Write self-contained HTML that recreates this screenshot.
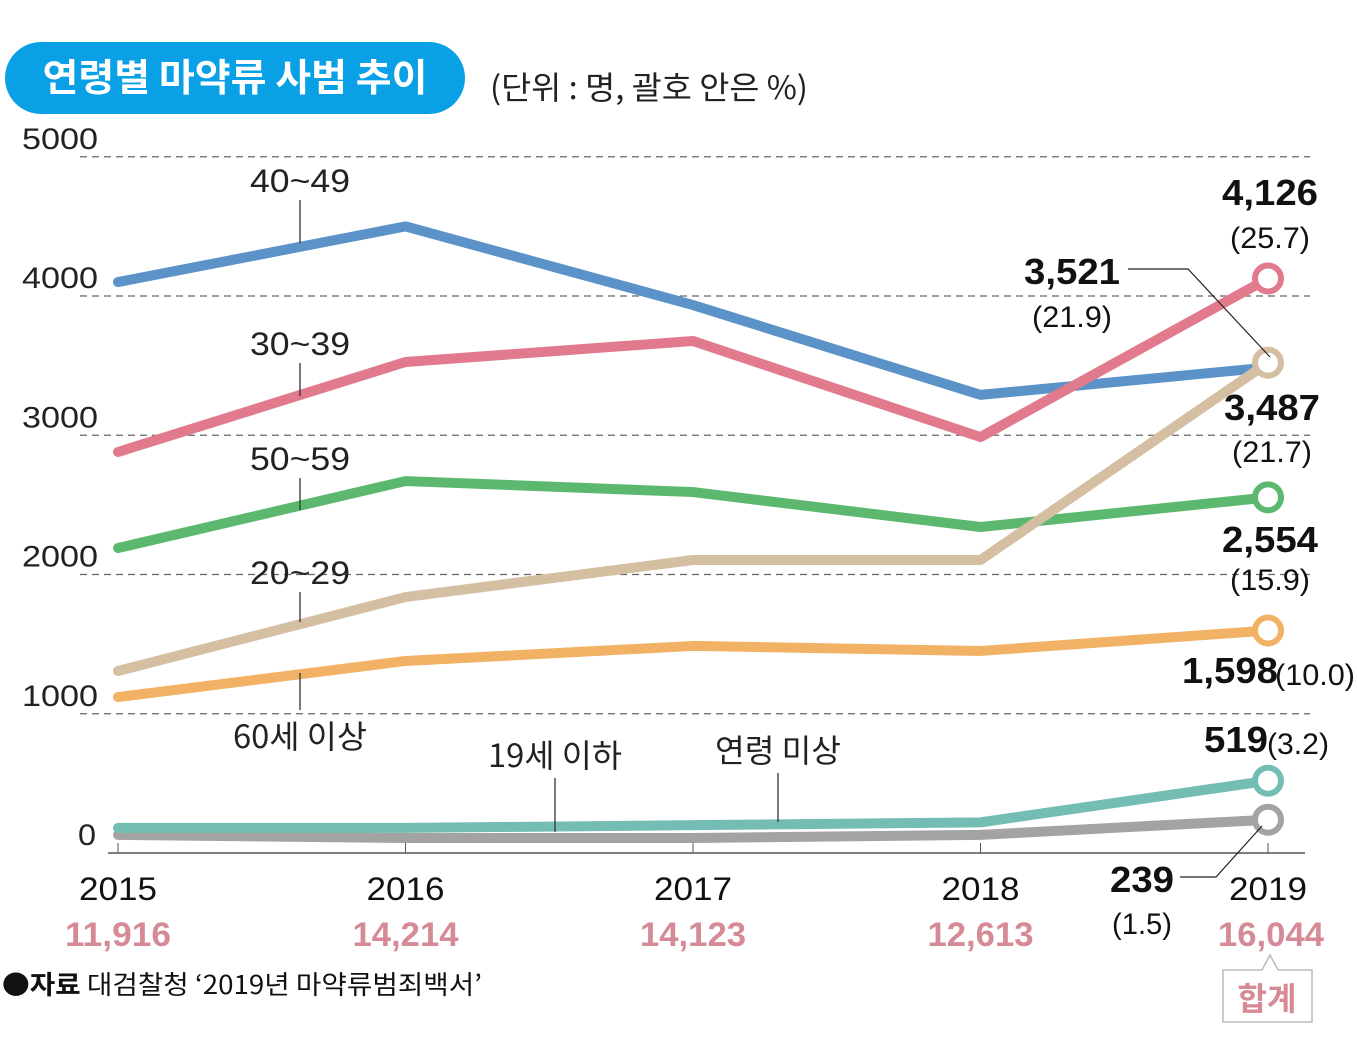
<!DOCTYPE html>
<html><head><meta charset="utf-8">
<style>
html,body{margin:0;padding:0;background:#fff;}
svg{display:block;}
text{font-family:"Liberation Sans","Noto Sans CJK KR",sans-serif;}
.k{font-family:"Noto Sans CJK KR","Liberation Sans",sans-serif;}
</style></head>
<body>
<svg id="chart" width="1357" height="1052" viewBox="0 0 1357 1052" xmlns="http://www.w3.org/2000/svg">
<rect x="5" y="42" width="460" height="72" rx="36" fill="#0aa0e6"/>
<text class="k" x="235" y="91" text-anchor="middle" font-size="38" font-weight="700" fill="#fff" textLength="385" lengthAdjust="spacingAndGlyphs">연령별 마약류 사범 추이</text>
<text class="k" x="490" y="99" font-size="32" fill="#222" textLength="318" lengthAdjust="spacingAndGlyphs">(단위 : 명, 괄호 안은 %)</text>
<g id="grid"></g>
<g id="lines"></g>
<g id="labels"></g>
<text class="k" x="2" y="994" font-size="26" fill="#111" textLength="480" lengthAdjust="spacingAndGlyphs"><tspan font-weight="700">●자료</tspan> 대검찰청 ‘2019년 마약류범죄백서’</text>
<path d="M1223,970 L1262,970 L1270,955 L1278,970 L1312,970 L1312,1022 L1223,1022 Z" fill="#fff" stroke="#bbb" stroke-width="1.5"/>
<text class="k" x="1267" y="1010" text-anchor="middle" font-size="32" font-weight="700" fill="#d58a95">합계</text>
</svg>
<script>
const years = ['2015','2016','2017','2018','2019'];
const totals = ['11,916','14,214','14,123','12,613','16,044'];
const yTicks = [0,1000,2000,3000,4000,5000];
const s4049 = [4100,4500,3935,3290,3487];
const s3039 = [2880,3526,3677,2987,4126];
const s5059 = [2190,2671,2592,2341,2554];
const s2029 = [1307,1838,2104,2104,3521];
const s60 = [1120,1379,1487,1451,1598];
const s19 = [180,180,200,220,519];
const sUnk = [130,108,108,130,239];

const NS='http://www.w3.org/2000/svg';
const X = i => 118 + i*287.5;
const Y = v => 853 - v*0.13925;
function mk(tag, attrs, parent, txt){const e=document.createElementNS(NS,tag);for(const k in attrs)e.setAttribute(k,attrs[k]);if(txt!==undefined)e.textContent=txt;parent.appendChild(e);return e;}
const grid=document.getElementById('grid'), lines=document.getElementById('lines'), labels=document.getElementById('labels');

yTicks.forEach(t=>{
  if(t>0){
    const l=mk('line',{x1:80,x2:1310,y1:Y(t),y2:Y(t),stroke:'#666','stroke-width':1.3,'stroke-dasharray':'7,5'},grid);
    
    
  }
  const tx=mk('text',{x:t===0?78:22,y:Y(t)-8,'font-size':30,fill:'#222',textLength:t===0?18:76,lengthAdjust:'spacingAndGlyphs'},grid,String(t));
  
  
});
const ax=mk('line',{x1:108,x2:1305,y1:853,y2:853,stroke:'#555','stroke-width':1.5},grid);


years.forEach((y,i)=>{
  const tk=mk('line',{x1:X(i),x2:X(i),y1:843,y2:853,stroke:'#555','stroke-width':1},grid);
  
  
  const t=mk('text',{x:X(i),y:900,'text-anchor':'middle','font-size':32,fill:'#111',textLength:78,lengthAdjust:'spacingAndGlyphs'},labels,y);
  
  
  const tt=mk('text',{x:X(i)+(i===4?3:0),y:946,'text-anchor':'middle','font-size':34,'font-weight':700,fill:'#d58a95',textLength:106,lengthAdjust:'spacingAndGlyphs'},labels,totals[i]);
  
  
});

const series=[
 {n:'age-unknown',d:sUnk,c:'#a3a3a3',circ:true},
 {n:'age-19-under',d:s19,c:'#74bdb5',circ:true},
 {n:'age-60-plus',d:s60,c:'#f2b266',circ:true},
 {n:'age-50-59',d:s5059,c:'#5cb86e',circ:true},
 {n:'age-40-49',d:s4049,c:'#5b93c9',circ:false},
 {n:'age-20-29',d:s2029,c:'#d4bfa3',circ:true},
 {n:'age-30-39',d:s3039,c:'#e07a8c',circ:true},
];
series.forEach(s=>{
  const p=mk('polyline',{points:s.d.map((v,i)=>X(i)+','+Y(v)).join(' '),fill:'none',stroke:s.c,'stroke-width':10,'stroke-linecap':'round','stroke-linejoin':'round'},lines);
  
  
  if(!s.circ){
    const d=mk('circle',{cx:X(4),cy:Y(s.d[4]),r:10,fill:s.c},lines);
    
    
  }
});
series.forEach(s=>{
  if(s.circ){
    const c=mk('circle',{cx:X(4),cy:Y(s.d[4]),r:13,fill:'#fff',stroke:s.c,'stroke-width':6},lines);
    
    
  }
});

// series name labels with leader lines
const nameLabels=[['40~49',300,192,243,'label-40-49'],['30~39',300,355,396,'label-30-39'],['50~59',300,470,510,'label-50-59'],['20~29',300,584,622,'label-20-29']];
nameLabels.forEach(a=>{
  const t=mk('text',{x:a[1],y:a[2],'text-anchor':'middle','font-size':32,fill:'#222',textLength:100,lengthAdjust:'spacingAndGlyphs'},labels,a[0]);
  
  
  const l=mk('line',{x1:a[1],x2:a[1],y1:a[2]+8,y2:a[3],stroke:'#333','stroke-width':1.3},labels);
  
  
});
const lowLabels=[['60세 이상',300,748,300,673,710,134],['19세 이하',555,767,555,778,832,134],['연령 미상',778,762,778,773,822,126]];
lowLabels.forEach((a,i)=>{
  const t=mk('text',{class:'k',x:a[1],y:a[2],'text-anchor':'middle','font-size':32,fill:'#222',textLength:a[6],lengthAdjust:'spacingAndGlyphs'},labels,a[0]);
  
  
  const l=mk('line',{x1:a[3],x2:a[3],y1:a[4],y2:a[5],stroke:'#333','stroke-width':1.3},labels);
  
  
});

// value annotations
const ann=[
 ['4,126',1270,205,'b',96],['(25.7)',1270,248,'n',80],
 ['3,521',1072,284,'b',96],['(21.9)',1072,327,'n',80],
 ['3,487',1272,420,'b',96],['(21.7)',1272,462,'n',80],
 ['2,554',1270,552,'b',96],['(15.9)',1270,590,'n',80],
 ['1,598',1230,683,'b',96],['(10.0)',1315,685,'n',80],
 ['519',1236,752,'b',64],['(3.2)',1298,754,'n',62],
 ['239',1142,892,'b',64],['(1.5)',1142,934,'n',60],
];
ann.forEach((a,i)=>{
  const t=mk('text',{x:a[1],y:a[2],'text-anchor':'middle','font-size':a[3]==='b'?36:30,'font-weight':a[3]==='b'?700:400,fill:'#111',textLength:a[4],lengthAdjust:'spacingAndGlyphs'},labels,a[0]);
  
  
});
const c1=mk('polyline',{points:'1128,269 1188,269 1270,357',fill:'none',stroke:'#222','stroke-width':1.2},labels);


const c2=mk('polyline',{points:'1180,877 1216,877 1262,826',fill:'none',stroke:'#222','stroke-width':1.2},labels);


</script>
</body></html>
